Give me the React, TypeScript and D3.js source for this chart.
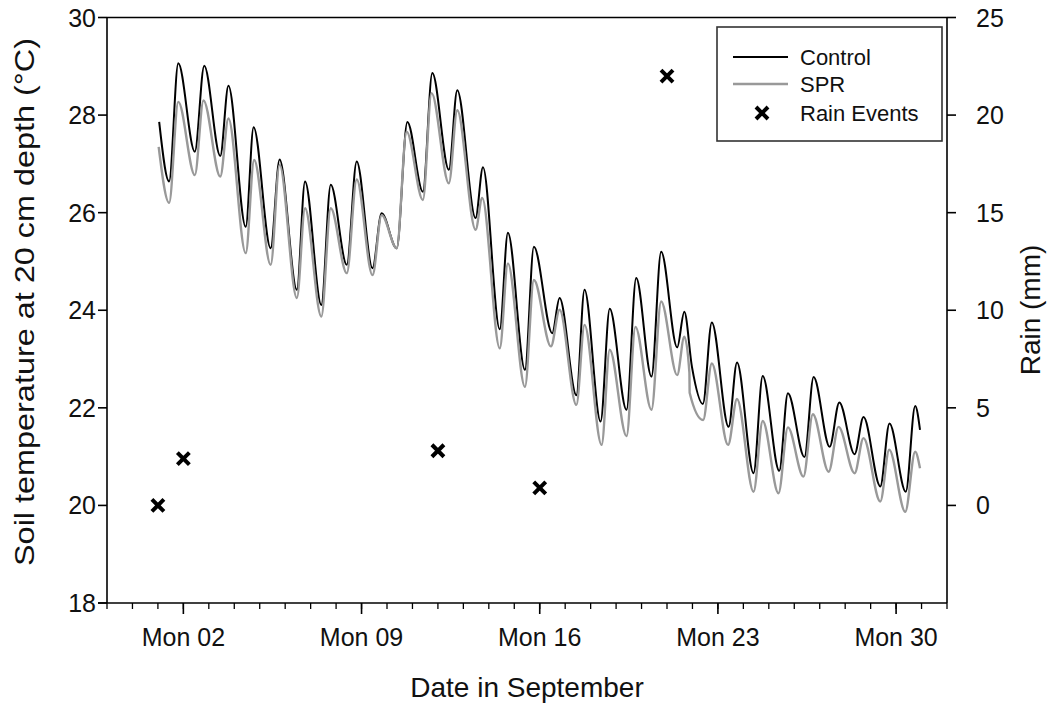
import React, { useEffect, useRef } from "react";
import * as d3 from "d3";

// turning points of the hourly curves
// days are "day of September" with a fraction (1.5 = Sep 1, 12:00)
const controlDays = [
  1.05, 1.44, 1.8, 2.45, 2.82, 3.45, 3.77, 4.45, 4.76, 5.43, 5.78, 6.46, 6.78, 7.42, 7.79, 8.42,
  8.81, 9.43, 9.79, 10.38, 10.8, 11.41, 11.78, 12.43, 12.76, 13.48, 13.77, 14.43, 14.75, 15.42,
  15.77, 16.49, 16.78, 17.44, 17.76, 18.39, 18.75, 19.41, 19.79, 20.39, 20.77, 21.4, 21.68, 21.98,
  22.41, 22.76, 23.42, 23.75, 24.4, 24.76, 25.41, 25.75, 26.4, 26.76, 27.39, 27.77, 28.37, 28.72,
  29.38, 29.74, 30.38, 30.75, 30.94
];
const controlTemp = [
  27.86, 26.64, 29.06, 27.25, 29.01, 27.16, 28.6, 25.71, 27.75, 25.27, 27.09, 24.42, 26.64, 24.11,
  26.57, 24.93, 27.05, 24.86, 25.99, 25.27, 27.86, 26.43, 28.86, 26.88, 28.51, 25.89, 26.93, 23.61,
  25.59, 22.78, 25.3, 23.53, 24.25, 22.26, 24.42, 21.72, 24.03, 21.96, 24.66, 22.64, 25.2, 23.24,
  23.97, 22.84, 22.08, 23.75, 21.61, 22.93, 20.66, 22.65, 20.71, 22.3, 20.99, 22.63, 21.2, 22.11,
  21.05, 21.81, 20.39, 21.68, 20.28, 22.04, 21.55
];

const sprDays = [
  1.03, 1.44, 1.8, 2.45, 2.79, 3.45, 3.77, 4.45, 4.78, 5.43, 5.78, 6.46, 6.78, 7.42, 7.79, 8.42,
  8.81, 9.43, 9.79, 10.38, 10.77, 11.41, 11.75, 12.43, 12.76, 13.48, 13.74, 14.43, 14.75, 15.42,
  15.77, 16.44, 16.78, 17.44, 17.76, 18.43, 18.75, 19.41, 19.76, 20.39, 20.77, 21.4, 21.68, 21.88,
  21.89, 22.42, 22.76, 23.4, 23.75, 24.4, 24.76, 25.38, 25.75, 26.36, 26.73, 27.35, 27.74, 28.37,
  28.72, 29.38, 29.73, 30.36, 30.75, 30.94
];
const sprTemp = [
  27.35, 26.2, 28.27, 26.77, 28.3, 26.74, 27.93, 25.17, 27.08, 24.93, 26.98, 24.25, 26.09, 23.87,
  26.09, 24.76, 26.68, 24.72, 25.95, 25.27, 27.66, 26.26, 28.45, 26.6, 28.1, 25.65, 26.3, 23.22,
  24.96, 22.43, 24.62, 23.26, 24.01, 22.06, 23.7, 21.24, 23.19, 21.42, 23.66, 21.96, 24.18, 22.67,
  23.46, 22.72, 22.31, 21.75, 22.91, 21.24, 22.18, 20.28, 21.73, 20.25, 21.6, 20.59, 21.87, 20.69,
  21.61, 20.66, 21.38, 20.08, 21.14, 19.87, 21.1, 20.76
];

const rainDays = [1, 2, 12, 16, 21];
const rainMm = [0.0, 2.4, 2.8, 0.9, 22.0];

const tempTicks = [18, 20, 22, 24, 26, 28, 30];
const rainTicks = [0, 5, 10, 15, 20, 25];
const legendLabels = ["Control", "SPR", "Rain Events"];

const FONT = "'Liberation Sans', Arial, sans-serif";

// day of September -> Date
const sep = (d: number) => new Date(new Date(2013, 7, 31).getTime() + d * 864e5);

const App = () => {
  const svgRef = useRef<SVGSVGElement>(null);

  useEffect(() => {
    const svg = d3.select(svgRef.current);
    svg.selectAll("*").remove();

    // ----- plot box
    const left = 107;
    const right = 947;
    const top = 17.5;
    const bottom = 603;

    const x = d3
      .scaleTime()
      .domain([sep(-1), sep(32)])
      .range([left, right]);
    const y = d3.scaleLinear().domain([18, 30]).range([bottom, top]);
    const yRain = d3.scaleLinear().domain([-5, 25]).range([bottom, top]);

    // ----- frame (top border)
    svg
      .append("line")
      .attr("x1", left)
      .attr("x2", right)
      .attr("y1", top)
      .attr("y2", top)
      .attr("stroke", "#000")
      .attr("stroke-width", 1.6);

    // ----- x axis: minor ticks every day, major on Mondays
    const xg = svg.append("g").attr("transform", `translate(0,${bottom})`);
    xg.append("line")
      .attr("x1", left - 9)
      .attr("x2", right)
      .attr("stroke", "#000")
      .attr("stroke-width", 1.6);
    xg.selectAll(".minor")
      .data(x.ticks(d3.timeDay.every(1)!))
      .join("line")
      .attr("x1", d => x(d))
      .attr("x2", d => x(d))
      .attr("y2", 6)
      .attr("stroke", "#000")
      .attr("stroke-width", 1.3);
    const mondays = x.ticks(d3.timeMonday.every(1)!);
    xg.selectAll(".major")
      .data(mondays)
      .join("line")
      .attr("x1", d => x(d))
      .attr("x2", d => x(d))
      .attr("y2", 11)
      .attr("stroke", "#000")
      .attr("stroke-width", 1.6);
    xg.selectAll("text")
      .data(mondays)
      .join("text")
      .attr("x", d => x(d))
      .attr("y", 43)
      .attr("text-anchor", "middle")
      .attr("font-size", 25)
      .attr("font-family", FONT)
      .attr("fill", "#111")
      .text(d3.timeFormat("%a %d"));

    svg
      .append("text")
      .attr("x", (left + right) / 2)
      .attr("y", 697)
      .attr("text-anchor", "middle")
      .attr("font-size", 28)
      .attr("font-family", FONT)
      .attr("fill", "#111")
      .text("Date in September");

    // ----- left axis
    const yg = svg.append("g").attr("transform", `translate(${left},0)`);
    yg.append("line").attr("y1", top).attr("y2", bottom).attr("stroke", "#000").attr("stroke-width", 1.6);
    yg.selectAll("line.t")
      .data(tempTicks)
      .join("line")
      .attr("class", "t")
      .attr("x1", -9)
      .attr("y1", d => y(d))
      .attr("y2", d => y(d))
      .attr("stroke", "#000")
      .attr("stroke-width", 1.6);
    yg.selectAll("text")
      .data(tempTicks)
      .join("text")
      .attr("x", -11)
      .attr("y", d => y(d))
      .attr("dy", "0.36em")
      .attr("text-anchor", "end")
      .attr("font-size", 25)
      .attr("font-family", FONT)
      .attr("fill", "#111")
      .text(d => d);

    svg
      .append("text")
      .attr("transform", "translate(34,302) rotate(-90)")
      .attr("text-anchor", "middle")
      .attr("font-size", 28)
      .attr("font-family", FONT)
      .attr("fill", "#111")
      .attr("textLength", 528)
      .attr("lengthAdjust", "spacingAndGlyphs")
      .text("Soil temperature at 20 cm depth (°C)");

    // ----- right axis (rain)
    const rg = svg.append("g").attr("transform", `translate(${right},0)`);
    rg.append("line").attr("y1", top).attr("y2", bottom).attr("stroke", "#000").attr("stroke-width", 1.6);
    rg.selectAll("line.t")
      .data(rainTicks)
      .join("line")
      .attr("class", "t")
      .attr("x2", 9)
      .attr("y1", d => yRain(d))
      .attr("y2", d => yRain(d))
      .attr("stroke", "#000")
      .attr("stroke-width", 1.6);
    rg.selectAll("text")
      .data(rainTicks)
      .join("text")
      .attr("x", 29)
      .attr("y", d => yRain(d))
      .attr("dy", "0.36em")
      .attr("font-size", 25)
      .attr("font-family", FONT)
      .attr("fill", "#111")
      .text(d => d);

    svg
      .append("text")
      .attr("transform", "translate(1040,310) rotate(-90)")
      .attr("text-anchor", "middle")
      .attr("font-size", 28)
      .attr("font-family", FONT)
      .attr("fill", "#111")
      .text("Rain (mm)");

    // ----- temperature curves
    const line = d3
      .line<[number, number]>()
      .x(d => x(sep(d[0])))
      .y(d => y(d[1]))
      .curve(d3.curveMonotoneX);

    const control = controlDays.map((d, i) => [d, controlTemp[i]] as [number, number]);
    const spr = sprDays.map((d, i) => [d, sprTemp[i]] as [number, number]);

    svg
      .append("path")
      .attr("d", line(control))
      .attr("fill", "none")
      .attr("stroke", "#000")
      .attr("stroke-width", 2);
    svg
      .append("path")
      .attr("d", line(spr))
      .attr("fill", "none")
      .attr("stroke", "#999")
      .attr("stroke-width", 2.4);

    // ----- rain events
    const cross = (cx: number, cy: number, r: number) =>
      `M${cx - r},${cy - r}L${cx + r},${cy + r}M${cx - r},${cy + r}L${cx + r},${cy - r}`;

    svg
      .selectAll(".rain")
      .data(rainDays.map((d, i) => ({ day: d, mm: rainMm[i] })))
      .join("path")
      .attr("d", d => cross(x(sep(d.day)), yRain(d.mm), 6))
      .attr("stroke", "#000")
      .attr("stroke-width", 4);

    // ----- legend
    const lg = svg.append("g").attr("transform", "translate(717,27)");
    lg.append("rect")
      .attr("width", 225)
      .attr("height", 114)
      .attr("fill", "#fff")
      .attr("stroke", "#333")
      .attr("stroke-width", 1.6);
    const rowY = [30, 57, 86];
    lg.append("line").attr("x1", 16).attr("x2", 71).attr("y1", rowY[0]).attr("y2", rowY[0])
      .attr("stroke", "#000").attr("stroke-width", 2);
    lg.append("line").attr("x1", 16).attr("x2", 71).attr("y1", rowY[1]).attr("y2", rowY[1])
      .attr("stroke", "#999").attr("stroke-width", 2.4);
    lg.append("path").attr("d", cross(45, rowY[2], 6)).attr("stroke", "#000").attr("stroke-width", 4);
    lg.selectAll("text")
      .data(legendLabels)
      .join("text")
      .attr("x", 83)
      .attr("y", (d, i) => rowY[i])
      .attr("dy", "0.36em")
      .attr("font-size", 22)
      .attr("font-family", FONT)
      .attr("fill", "#111")
      .text(d => d);
  }, []);

  return (
    <svg
      ref={svgRef}
      width={1048}
      height={706}
      style={{ position: "absolute", left: 0, top: 0, background: "#fff" }}
    />
  );
};

export default App;
